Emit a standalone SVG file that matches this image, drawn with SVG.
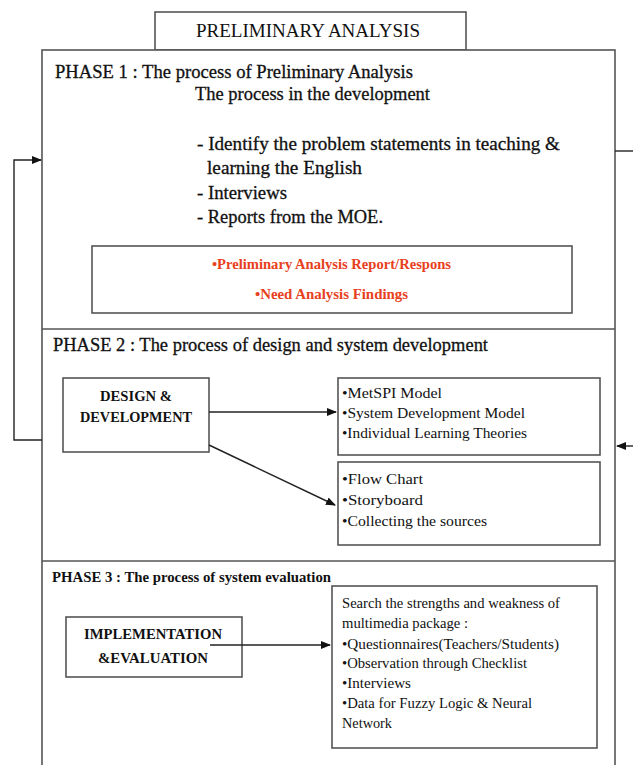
<svg xmlns="http://www.w3.org/2000/svg" width="633" height="765" viewBox="0 0 633 765">
<defs>
<marker id="ah" markerWidth="10" markerHeight="8" refX="9" refY="4" orient="auto" markerUnits="userSpaceOnUse">
<path d="M0,0 L10,4 L0,8 Z" fill="#111"/>
</marker>
<style>
.box{fill:#fff;stroke:#555;stroke-width:1.6}
.t{font-family:"Liberation Serif","Times New Roman",serif;fill:#111}
.h{font-size:18.5px;stroke:#111;stroke-width:0.3}
.b{font-weight:bold}
.s{font-size:14.5px}
.red{fill:#e8401c;font-weight:bold;font-size:14.5px}
.c{stroke:#222;stroke-width:1.4;fill:none}
</style>
</defs>
<rect width="633" height="765" fill="#fff"/>

<g id="title">
<rect class="box" x="155" y="12" width="311" height="38"/>
<text class="t" x="196" y="37" font-size="18" textLength="224" lengthAdjust="spacingAndGlyphs">PRELIMINARY ANALYSIS</text>
</g>

<g id="main">
<rect class="box" x="42" y="50" width="573" height="725"/>
<line x1="42" y1="329" x2="615" y2="329" stroke="#555" stroke-width="1.6"/>
<line x1="42" y1="561" x2="615" y2="561" stroke="#555" stroke-width="1.6"/>
</g>

<g id="phase1">
<text class="t h" x="55" y="78" textLength="358" lengthAdjust="spacingAndGlyphs">PHASE 1 : The process of Preliminary Analysis</text>
<text class="t h" x="195" y="100" textLength="235" lengthAdjust="spacingAndGlyphs">The process in the development</text>
<text class="t h" x="197" y="150" textLength="363" lengthAdjust="spacingAndGlyphs">- Identify the problem statements in teaching &amp;</text>
<text class="t h" x="207" y="174" textLength="155" lengthAdjust="spacingAndGlyphs">learning the English</text>
<text class="t h" x="197" y="199" textLength="90" lengthAdjust="spacingAndGlyphs">- Interviews</text>
<text class="t h" x="197" y="223" textLength="186" lengthAdjust="spacingAndGlyphs">- Reports from the MOE.</text>
</g>

<g id="findings">
<rect class="box" x="92" y="246" width="480" height="67"/>
<text class="t red" x="212" y="269" textLength="239" lengthAdjust="spacingAndGlyphs">•Preliminary Analysis Report/Respons</text>
<text class="t red" x="255" y="299" textLength="153" lengthAdjust="spacingAndGlyphs">•Need Analysis Findings</text>
</g>

<g id="phase2">
<text class="t h" x="53" y="351" textLength="435" lengthAdjust="spacingAndGlyphs">PHASE 2 : The process of design and system development</text>
</g>

<g id="design">
<rect class="box" x="63" y="378" width="146" height="74"/>
<text class="t b" x="100" y="401" font-size="15" textLength="72" lengthAdjust="spacingAndGlyphs">DESIGN &amp;</text>
<text class="t b" x="80" y="422" font-size="15" textLength="112" lengthAdjust="spacingAndGlyphs">DEVELOPMENT</text>
</g>

<g id="models">
<rect class="box" x="338" y="378" width="262" height="77"/>
<text class="t s" x="342" y="398" textLength="100" lengthAdjust="spacingAndGlyphs">•MetSPI Model</text>
<text class="t s" x="342" y="418" textLength="183" lengthAdjust="spacingAndGlyphs">•System Development Model</text>
<text class="t s" x="342" y="438" textLength="185" lengthAdjust="spacingAndGlyphs">•Individual Learning Theories</text>
</g>

<g id="storyboard">
<rect class="box" x="338" y="462" width="262" height="83"/>
<text class="t s" x="342" y="484" textLength="81" lengthAdjust="spacingAndGlyphs">•Flow Chart</text>
<text class="t s" x="342" y="505" textLength="81" lengthAdjust="spacingAndGlyphs">•Storyboard</text>
<text class="t s" x="342" y="526" textLength="145" lengthAdjust="spacingAndGlyphs">•Collecting the sources</text>
</g>

<g id="phase3">
<text class="t b" x="52" y="582" font-size="15" textLength="279" lengthAdjust="spacingAndGlyphs">PHASE 3 : The process of system evaluation</text>
</g>

<g id="implementation">
<rect class="box" x="66" y="617" width="176" height="60"/>
<text class="t b" x="84" y="639" font-size="15" textLength="138" lengthAdjust="spacingAndGlyphs">IMPLEMENTATION</text>
<text class="t b" x="98" y="663" font-size="15" textLength="110" lengthAdjust="spacingAndGlyphs">&amp;EVALUATION</text>
</g>

<g id="evaluation">
<rect class="box" x="332" y="586" width="265" height="162"/>
<text class="t s" x="342" y="608" textLength="218" lengthAdjust="spacingAndGlyphs">Search the strengths and weakness of</text>
<text class="t s" x="342" y="628" textLength="126" lengthAdjust="spacingAndGlyphs">multimedia package :</text>
<text class="t s" x="342" y="649" textLength="217" lengthAdjust="spacingAndGlyphs">•Questionnaires(Teachers/Students)</text>
<text class="t s" x="342" y="668" textLength="185" lengthAdjust="spacingAndGlyphs">•Observation through Checklist</text>
<text class="t s" x="342" y="688" textLength="69" lengthAdjust="spacingAndGlyphs">•Interviews</text>
<text class="t s" x="342" y="708" textLength="190" lengthAdjust="spacingAndGlyphs">•Data for Fuzzy Logic &amp; Neural</text>
<text class="t s" x="342" y="728" textLength="50" lengthAdjust="spacingAndGlyphs">Network</text>
</g>

<g id="connectors">
<line class="c" x1="209" y1="412" x2="336" y2="412" marker-end="url(#ah)"/>
<line class="c" x1="209" y1="445" x2="335" y2="505" marker-end="url(#ah)"/>
<line class="c" x1="210" y1="645" x2="330" y2="645" marker-end="url(#ah)"/>
<polyline class="c" points="42,440 14,440 14,160 41,160" marker-end="url(#ah)"/>
<line class="c" x1="615" y1="151" x2="633" y2="151"/>
<line class="c" x1="633" y1="446" x2="617" y2="446" marker-end="url(#ah)"/>
</g>
</svg>
